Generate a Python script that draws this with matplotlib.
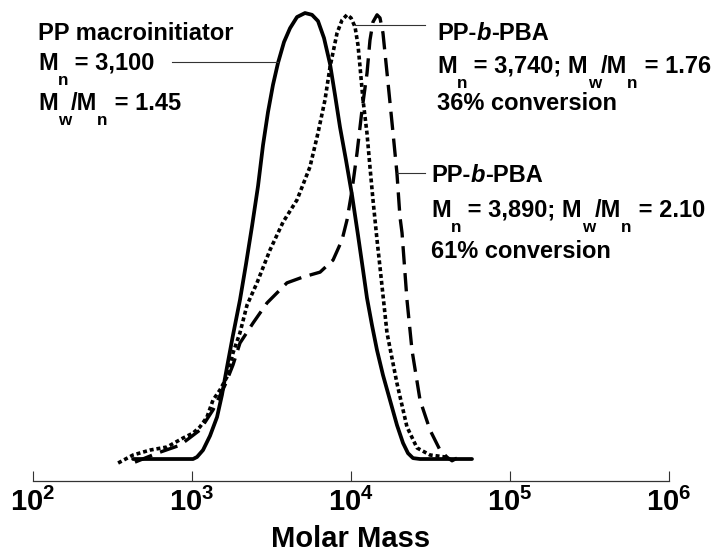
import matplotlib
matplotlib.use('Agg')
import matplotlib.pyplot as plt
from matplotlib.ticker import NullLocator

plt.rcParams['font.family'] = ['Liberation Sans', 'DejaVu Sans']
plt.rcParams['mathtext.fontset'] = 'custom'
plt.rcParams['mathtext.rm'] = 'Liberation Sans:bold'
plt.rcParams['mathtext.bf'] = 'Liberation Sans:bold'
plt.rcParams['mathtext.it'] = 'Liberation Sans:italic:bold'

# ---------------- data ----------------
# PP macroinitiator (solid)
pp_mass = [426, 1015, 1075, 1173, 1298, 1437, 1544, 1660, 1811, 2004, 2186, 2385, 2602,
           2797, 3006, 3231, 3474, 3790, 4135, 4575, 5137, 5685, 6201, 6764, 7379, 7935,
           8528, 9302, 10146, 11066, 11899, 12605, 13554, 14573, 15896, 17589, 19463,
           21233, 22828, 24547, 27164, 57680]
pp_signal = [0.0, 0.0, 0.0045, 0.020, 0.052, 0.094, 0.144, 0.206, 0.278, 0.357, 0.437,
             0.522, 0.612, 0.704, 0.778, 0.839, 0.888, 0.935, 0.966, 0.991, 1.0, 0.996,
             0.982, 0.944, 0.886, 0.816, 0.744, 0.670, 0.592, 0.502, 0.424, 0.361, 0.300,
             0.244, 0.188, 0.132, 0.076, 0.036, 0.013, 0.002, 0.0, 0.0]

# PP-b-PBA, 36 % conversion (dotted)
pba36_mass = [343, 426, 544, 697, 878, 1014, 1122, 1242, 1355, 1500, 1660, 1811, 2003,
              2218, 2563, 3097, 3736, 4575, 5520, 6200, 6860, 7380, 8170, 8778, 9440,
              10000, 10600, 11066, 11400, 11900, 12600, 13160, 13750, 14580, 15220,
              16840, 19450, 22490, 26000, 31400, 40200]
pba36_signal = [-0.009, 0.009, 0.020, 0.027, 0.047, 0.058, 0.072, 0.094, 0.132, 0.155,
                0.184, 0.238, 0.283, 0.345, 0.395, 0.469, 0.531, 0.581, 0.655, 0.731,
                0.805, 0.879, 0.955, 0.984, 0.996, 0.989, 0.969, 0.928, 0.879, 0.805,
                0.731, 0.655, 0.581, 0.491, 0.430, 0.283, 0.170, 0.072, 0.025, 0.009,
                0.004]

# PP-b-PBA, 61 % conversion (dashed)
pba61_mass = [438, 603, 841, 1122, 1355, 1614, 1811, 2003, 2421, 2965, 3956, 4985, 6390,
              7710, 8780, 9440, 10150, 10910, 11730, 12610, 13160, 13750, 14580, 15220,
              15890, 17100, 18380, 19450, 20320, 20940, 22490, 24190, 27180, 31400,
              36300, 40200, 43200, 46400]
pba61_signal = [-0.007, 0.013, 0.031, 0.065, 0.110, 0.166, 0.211, 0.260, 0.305, 0.350,
                0.395, 0.408, 0.419, 0.446, 0.491, 0.536, 0.603, 0.686, 0.783, 0.865,
                0.939, 0.980, 0.996, 0.989, 0.955, 0.843, 0.731, 0.641, 0.543, 0.507,
                0.357, 0.244, 0.132, 0.065, 0.020, 0.004, -0.004, 0.002]

tick_values = [1e2, 1e3, 1e4, 1e5, 1e6]
tick_labels = [r'$\mathbf{10^{2}}$', r'$\mathbf{10^{3}}$', r'$\mathbf{10^{4}}$',
               r'$\mathbf{10^{5}}$', r'$\mathbf{10^{6}}$']
x_label = 'Molar Mass'

# ---------------- figure ----------------
W, H = 720, 559
fig = plt.figure(figsize=(W / 100, H / 100), dpi=100)
ax = fig.add_axes([33 / W, (H - 481) / H, (669 - 33) / W, 481 / H])

ax.plot(pp_mass, pp_signal, color='black', lw=2.7, solid_joinstyle='round',
        solid_capstyle='round')
ax.plot(pba36_mass, pba36_signal, color='black', lw=2.6, linestyle=(0, (1.1, 0.8)),
        dash_capstyle='butt', dash_joinstyle='round')
ax.plot(pba61_mass, pba61_signal, color='black', lw=2.4, linestyle=(0, (5.5, 2.6)),
        dash_capstyle='butt', dash_joinstyle='round')

ax.set_xscale('log')
ax.set_xlim(1e2, 1e6)
ax.set_ylim(-0.0493, 1.0292)
for s in ['top', 'right', 'left']:
    ax.spines[s].set_visible(False)
ax.spines['bottom'].set_linewidth(0.9)
ax.spines['bottom'].set_color('#333333')
ax.set_yticks([])
ax.set_xticks(tick_values)
ax.set_xticklabels(tick_labels, fontsize=21)
ax.xaxis.set_minor_locator(NullLocator())
ax.tick_params(axis='x', direction='in', length=7, width=0.8, color='#333333', pad=5)
ax.set_xlabel(x_label, fontsize=21, fontweight='bold', labelpad=6)

# ---------------- annotations ----------------
renderer = fig.canvas.get_renderer()
FS = 17


def rich(x, y, pieces, size=FS):
    cx = x
    for txt, kind in pieces:
        kw = dict(fontsize=size, fontweight='bold', ha='left', va='baseline')
        yy = y
        if kind == 'sub':
            kw['fontsize'] = size * 0.72
            yy = y + 15
        elif kind == 'it':
            kw['style'] = 'italic'
        t = fig.text(cx / W, 1 - yy / H, txt, **kw)
        bb = t.get_window_extent(renderer)
        cx += bb.width


def leader(x0, x1, y):
    fig.add_artist(plt.Line2D([x0 / W, x1 / W], [1 - y / H, 1 - y / H],
                              transform=fig.transFigure, color='#333333', lw=0.8))


rich(38, 40, [('PP macroinitiator', 'n')])
rich(38, 70, [('M', 'n'), ('n', 'sub'), (' = 3,100', 'n')])
rich(38, 110, [('M', 'n'), ('w', 'sub'), ('/M', 'n'), ('n', 'sub'), (' = 1.45', 'n')])
leader(172, 278, 62)

rich(437, 40, [('PP-', 'n'), ('b', 'it'), ('-PBA', 'n')])
rich(437, 73, [('M', 'n'), ('n', 'sub'), (' = 3,740; M', 'n'), ('w', 'sub'), ('/M', 'n'),
               ('n', 'sub'), (' = 1.76', 'n')])
rich(437, 110, [('36% conversion', 'n')])
leader(355, 425, 25)

rich(431, 182, [('PP-', 'n'), ('b', 'it'), ('-PBA', 'n')])
rich(431, 217, [('M', 'n'), ('n', 'sub'), (' = 3,890; M', 'n'), ('w', 'sub'), ('/M', 'n'),
                ('n', 'sub'), (' = 2.10', 'n')])
rich(431, 258, [('61% conversion', 'n')])
leader(397, 425, 173)

fig.savefig('out.png', dpi=100)
